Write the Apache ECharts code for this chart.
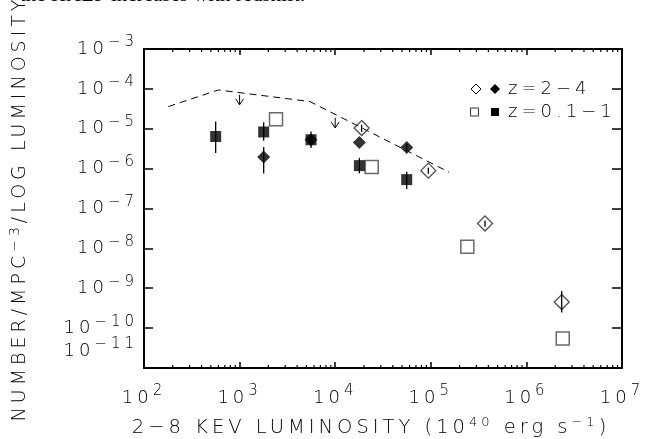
<!DOCTYPE html>
<html><head><meta charset="utf-8">
<script src="https://cdn.jsdelivr.net/npm/echarts@6/dist/echarts.min.js"></script>
<style>html,body{margin:0;padding:0;background:#fff}#c{width:652px;height:439px}</style>
</head><body><div id="c"></div>
<script>
// ---- data ----
const xTicks = [1e2, 1e3, 1e4, 1e5, 1e6, 1e7];
const yTicks = [1e-11, 1e-10, 1e-9, 1e-8, 1e-7, 1e-6, 1e-5, 1e-4, 1e-3];
const minorMultipliers = [2, 3, 4, 5, 6, 7, 8, 9];
const openDiamondZ24 = [[18900, 1.04e-5], [94200, 8.9e-7], [369000, 4.2e-8], [2.34e6, 4.5e-10]];
const filledDiamondZ24 = [[1786, 1.95e-6], [5585, 5.3e-6], [17900, 4.55e-6], [56000, 3.4e-6]];
const openSquareZ01 = [[2404, 1.74e-5], [24100, 1.1e-6], [241000, 1.1e-8], [2.4e6, 5.5e-11]];
const filledSquareZ01 = [[562, 6.4e-6], [1786, 8.3e-6], [5585, 5.3e-6], [17900, 1.19e-6], [56000, 5.3e-7]];
const errorBars = [[562, 1.51e-5, 2.45e-6], [1786, 1.45e-5, 5e-6], [1786, 3.5e-6, 7.6e-7], [5585, 8.5e-6, 3.3e-6],
  [17900, 1.86e-6, 7.6e-7], [56000, 8.3e-7, 3.1e-7], [56000, 4.2e-6, 2.75e-6], [18900, 1.26e-5, 8.3e-6],
  [94200, 1.07e-6, 7.4e-7], [369000, 5e-8, 3.5e-8], [2.34e6, 8.5e-10, 2.45e-10]];
const limitCurve = [[180, 3.6e-5], [600, 9.4e-5], [5450, 4.8e-5], [156000, 8.1e-7]];
const upperLimitArrows = [[1000, 7.1e-5, 4e-5], [10000, 1.88e-5, 1.05e-5]];
const legendLabels = ['z=2\u22124', 'z=0.1\u22121'];

// wide, spaced lettering like the original plot font
(function () {
  const P = CanvasRenderingContext2D.prototype;
  function apply(ctx) { if ('letterSpacing' in ctx) ctx.letterSpacing = /Serif/.test(ctx.font) ? '0px' : '4px'; }
  ['fillText', 'strokeText', 'measureText'].forEach(fn => {
    const o = P[fn];
    P[fn] = function () { apply(this); return o.apply(this, arguments); };
  });
})();

const minorTickValues = [];
xTicks.slice(0, -1).forEach(d => minorMultipliers.forEach(m => minorTickValues.push([d * m, 1e-3])));

const FONT = 'DejaVu Sans';
const FW = 200;
const base = { fontFamily: FONT, fontWeight: FW, color: '#000' };
const labelRich = {
  b: Object.assign({ fontSize: 18, lineHeight: 32 }, base),
  e: Object.assign({ fontSize: 15, lineHeight: 15, verticalAlign: 'top' }, base),
  g: Object.assign({ fontSize: 10, lineHeight: 34 }, base)
};
function expText(v) {
  const e = Math.round(Math.log10(v));
  return '{b|10}{e|' + (e < 0 ? '\u2212' + (-e) : e) + '}';
}
const lowestY = yTicks[0];
function isLowest(v) { return Math.round(Math.log10(v)) === Math.round(Math.log10(lowestY)); }

const chart = echarts.init(document.getElementById('c'), null, { renderer: 'canvas' });
const axisLine = { show: true, lineStyle: { color: '#000', width: 2 } };
const X = { type: 'log', logBase: 10, min: xTicks[0], max: xTicks[xTicks.length - 1], interval: 1 };
const Y = { type: 'log', logBase: 10, min: yTicks[0], max: yTicks[yTicks.length - 1], interval: 1 };

chart.setOption({
  animation: false,
  backgroundColor: '#fff',
  grid: { left: 144, right: 30, top: 49, bottom: 71, containLabel: false, outerBoundsMode: 'none' },
  xAxis: [
    Object.assign({}, X, {
      position: 'bottom',
      axisLine, splitLine: { show: false },
      axisTick: { inside: true, length: 6, lineStyle: { color: '#000', width: 1.5 } },
      axisLabel: { formatter: expText, rich: labelRich, margin: 14, showMinLabel: true, showMaxLabel: true },
      name: '2\u22128 KEV LUMINOSITY (10{s|40} erg s{s|\u22121}){w| }',
      nameLocation: 'middle', nameGap: 38,
      nameTextStyle: Object.assign({ fontSize: 19.5, lineHeight: 28,
        rich: {
          s: Object.assign({ fontSize: 13, lineHeight: 13, verticalAlign: 'top' }, base),
          w: Object.assign({ fontSize: 10, width: 24 }, base)
        } }, base)
    }),
    Object.assign({}, X, {
      position: 'top',
      axisLine, splitLine: { show: false },
      axisTick: { inside: true, length: 6, lineStyle: { color: '#000', width: 1.5 } },
      axisLabel: { show: false }
    })
  ],
  yAxis: [
    Object.assign({}, Y, {
      position: 'left',
      axisLine, splitLine: { show: false },
      axisTick: { inside: true, length: 9, lineStyle: { color: '#000', width: 1.5 } },
      axisLabel: { formatter: v => isLowest(v) ? '' : expText(v), rich: labelRich, margin: 6, showMinLabel: false, showMaxLabel: true },
      name: 'NUMBER/MPC{s|\u22123}/LOG LUMINOSITY',
      nameLocation: 'middle', nameGap: 110, nameRotate: 90,
      nameTextStyle: Object.assign({ fontSize: 19, lineHeight: 28,
        rich: { s: Object.assign({ fontSize: 14, lineHeight: 14, verticalAlign: 'top' }, base) } }, base)
    }),
    Object.assign({}, Y, {
      position: 'right',
      axisLine, splitLine: { show: false },
      axisTick: { inside: true, length: 10, lineStyle: { color: '#000', width: 1.5 } },
      axisLabel: { show: false }
    }),
    Object.assign({}, Y, {
      position: 'left',
      axisLine: { show: false }, axisTick: { show: false }, splitLine: { show: false },
      axisLabel: { formatter: v => isLowest(v) ? expText(v) + '\n{g| }' : '', rich: labelRich, margin: 6, showMinLabel: true }
    })
  ],
  series: [
    {
      type: 'custom', name: 'minor ticks', silent: true, clip: false,
      data: minorTickValues, encode: { x: 0, y: 1 },
      renderItem: function (params, api) {
        const x = api.coord([api.value(0), api.value(1)])[0];
        const cs = params.coordSys;
        const st = { stroke: '#000', lineWidth: 1.2 };
        return { type: 'group', children: [
          { type: 'line', shape: { x1: x, y1: cs.y + cs.height, x2: x, y2: cs.y + cs.height - 3 }, style: st },
          { type: 'line', shape: { x1: x, y1: cs.y, x2: x, y2: cs.y + 3 }, style: st }
        ] };
      }
    },
    {
      type: 'line', name: 'limit', data: limitCurve, symbol: 'none', silent: true,
      lineStyle: { color: '#000', width: 1, type: [7, 5] }, z: 2
    },
    {
      type: 'custom', name: 'upper limits', silent: true,
      data: upperLimitArrows, encode: { x: 0, y: [1, 2] }, z: 2,
      renderItem: function (params, api) {
        const a = api.coord([api.value(0), api.value(1)]);
        const b = api.coord([api.value(0), api.value(2)]);
        const st = { stroke: '#000', lineWidth: 1, fill: null };
        return { type: 'group', children: [
          { type: 'line', shape: { x1: a[0], y1: a[1], x2: b[0], y2: b[1] }, style: st },
          { type: 'polyline', shape: { points: [[b[0] - 4, b[1] - 6], [b[0], b[1]], [b[0] + 4, b[1] - 6]] }, style: st }
        ] };
      }
    },
    {
      type: 'custom', name: 'error bars', silent: true,
      data: errorBars, encode: { x: 0, y: [1, 2] }, z: 3,
      renderItem: function (params, api) {
        const a = api.coord([api.value(0), api.value(1)]);
        const b = api.coord([api.value(0), api.value(2)]);
        return { type: 'line', shape: { x1: a[0], y1: a[1], x2: b[0], y2: b[1] }, style: { stroke: '#000', lineWidth: 1.3 } };
      }
    },
    {
      type: 'scatter', name: 'z=2-4 open', data: openDiamondZ24, symbol: 'diamond', symbolSize: 15, z: 2,
      itemStyle: { color: 'rgba(255,255,255,0)', borderColor: '#222', borderWidth: 1.3 }
    },
    {
      type: 'scatter', name: 'z=0.1-1 open', data: openSquareZ01, symbol: 'rect', symbolSize: 13, z: 4,
      itemStyle: { color: '#fff', borderColor: '#444', borderWidth: 1.5 }
    },
    {
      type: 'scatter', name: 'z=2-4 filled', data: filledDiamondZ24, symbol: 'diamond', symbolSize: 13, z: 4,
      itemStyle: { color: '#000' }
    },
    {
      type: 'scatter', name: 'z=0.1-1 filled', data: filledSquareZ01, symbol: 'rect', symbolSize: 11, z: 4,
      itemStyle: { color: '#000' }
    }
  ],
  graphic: [
    { type: 'text', x: 20, y: 6, silent: true,
      style: { text: 'the HXLF increases with redshift.', font: '21px "Liberation Serif"', fill: '#000', verticalAlign: 'bottom' } },
    { type: 'polygon', shape: { points: [[476, 84], [481, 89], [476, 94], [471, 89]] }, style: { fill: '#fff', stroke: '#000', lineWidth: 1 } },
    { type: 'polygon', shape: { points: [[495, 84], [500, 89], [495, 94], [490, 89]] }, style: { fill: '#000' } },
    { type: 'text', x: 508, y: 89, style: { text: legendLabels[0], fontFamily: FONT, fontWeight: FW, fontSize: 18, fill: '#000', verticalAlign: 'middle' } },
    { type: 'rect', shape: { x: 470.5, y: 108, width: 8, height: 8 }, style: { fill: '#fff', stroke: '#333', lineWidth: 1 } },
    { type: 'rect', shape: { x: 491, y: 108, width: 8, height: 8 }, style: { fill: '#000' } },
    { type: 'text', x: 508, y: 112, style: { text: legendLabels[1], fontFamily: FONT, fontWeight: FW, fontSize: 18, fill: '#000', verticalAlign: 'middle' } }
  ]
});
</script></body></html>
